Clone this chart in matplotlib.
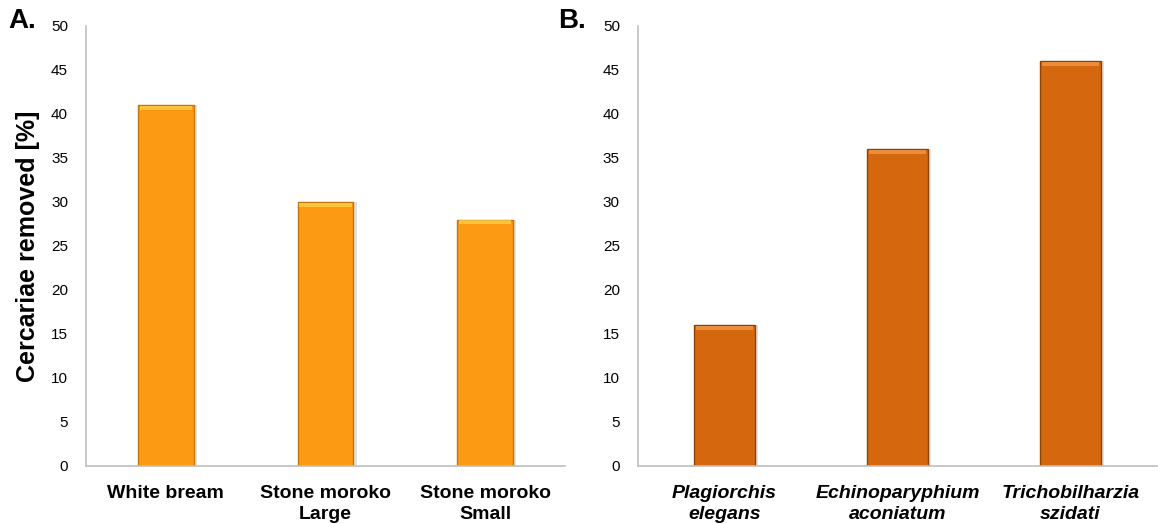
import numpy as np
import matplotlib.pyplot as plt

plt.rcParams.update({
    "font.family": ["Liberation Sans", "DejaVu Sans"],
    "font.size": 11,
})

# -----------------------------------------------------------------------------
# Data
# -----------------------------------------------------------------------------
fish_labels = ["White bream", "Stone moroko\nLarge", "Stone moroko\nSmall"]
fish_values = [41, 30, 28]

parasite_labels = ["Plagiorchis\nelegans", "Echinoparyphium\naconiatum",
                   "Trichobilharzia\nszidati"]
parasite_values = [16, 36, 46]

y_ticks = list(range(0, 51, 5))

COLOR_A = "#FC9A14"
EDGE_A = "#C27608"
HILITE_A = "#FFD24A"
COLOR_B = "#D5680F"
EDGE_B = "#8C4406"
HILITE_B = "#F39C4A"
SPINE = "#BFBFBF"

fig = plt.figure(figsize=(11.58, 5.24), dpi=100)
ax_a = fig.add_axes([0.0743, 0.1107, 0.4136, 0.8397])
ax_b = fig.add_axes([0.5509, 0.1107, 0.4482, 0.8397])


def draw_panel(ax, labels, values, face, edge, hilite, italic):
    x = np.arange(len(values))
    vals = np.asarray(values, dtype=float)
    width = 0.35
    # soft shadow
    ax.bar(x + 0.02, vals, width=width, color="#000000", alpha=0.12,
           linewidth=0, zorder=1)
    ax.bar(x, vals, width=width, color=face, edgecolor=edge,
           linewidth=1.0, zorder=2)
    # bevel highlight on top
    ax.bar(x, 0.45, bottom=vals - 0.55, width=width * 0.94, color=hilite,
           linewidth=0, alpha=0.75, zorder=3)
    ax.set_xlim(-0.5, len(values) - 0.5)
    ax.set_ylim(0, 50)
    ax.set_yticks(y_ticks)
    ax.set_xticks(x)
    ax.set_xticklabels(labels, fontsize=14, fontweight="bold",
                       fontstyle="italic" if italic else "normal",
                       linespacing=1.25)
    ax.tick_params(axis="both", length=0)
    ax.tick_params(axis="y", pad=13, labelsize=11)
    ax.tick_params(axis="x", pad=14)
    for s in ["top", "right"]:
        ax.spines[s].set_visible(False)
    for s in ["left", "bottom"]:
        ax.spines[s].set_color(SPINE)
        ax.spines[s].set_linewidth(1.2)


draw_panel(ax_a, fish_labels, fish_values, COLOR_A, EDGE_A, HILITE_A, False)
draw_panel(ax_b, parasite_labels, parasite_values, COLOR_B, EDGE_B, HILITE_B, True)

ax_a.set_ylabel("Cercariae removed [%]", fontsize=18, fontweight="bold",
                labelpad=8)

fig.text(0.007, 0.96, "A.", fontsize=20, fontweight="bold", va="center")
fig.text(0.482, 0.96, "B.", fontsize=20, fontweight="bold", va="center")

fig.savefig("out.png", dpi=100)
